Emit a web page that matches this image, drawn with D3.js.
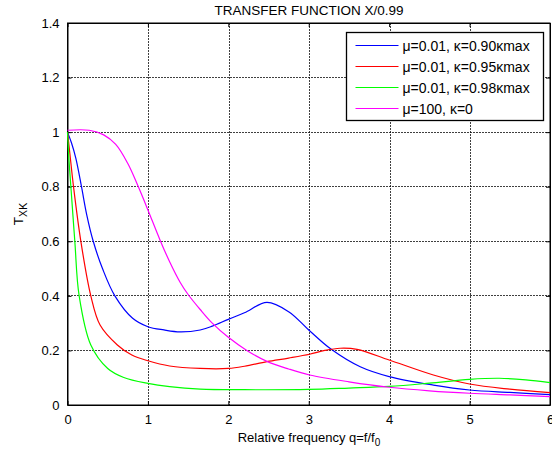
<!DOCTYPE html>
<html>
<head>
<meta charset="utf-8">
<script src="https://cdn.jsdelivr.net/npm/d3@7"></script>
<style>
  body { margin: 0; background: #fff; }
  text { font-family: "Liberation Sans", Arial, sans-serif; fill: #000; }
  .grid line { stroke: #000; stroke-opacity: 0.75; stroke-dasharray: 2,1; shape-rendering: crispEdges; }
</style>
</head>
<body>
<div class="chart"></div>
<script>
// values
var xTicks = [0, 1, 2, 3, 4, 5, 6];
var yTicks = [0, 0.2, 0.4, 0.6, 0.8, 1, 1.2, 1.4];

var seriesNames = ["μ=0.01, κ=0.90κmax", "μ=0.01, κ=0.95κmax", "μ=0.01, κ=0.98κmax", "μ=100, κ=0"];
var seriesColors = ["#0000ff", "#ff0000", "#00ff00", "#ff00ff"];

var qBlue = [0, 0.05, 0.104, 0.174, 0.24, 0.32, 0.435, 0.589, 0.81, 1.0, 1.2, 1.4, 1.65, 1.8, 2.0, 2.2, 2.48, 2.75, 3.0, 3.28, 3.64, 4.0, 4.55, 5.0, 5.5, 6.0];
var tBlue = [1.0, 0.96, 0.904, 0.8, 0.696, 0.6, 0.5, 0.4, 0.318, 0.287, 0.275, 0.268, 0.275, 0.289, 0.314, 0.338, 0.376, 0.342, 0.275, 0.204, 0.14, 0.104, 0.073, 0.055, 0.046, 0.038];

var qRed = [0, 0.03, 0.075, 0.166, 0.29, 0.405, 0.62, 0.8, 1.0, 1.27, 1.65, 2.0, 2.2, 2.48, 2.75, 3.01, 3.2, 3.39, 3.6, 4.0, 4.55, 5.0, 5.5, 6.0];
var tRed = [1.0, 0.92, 0.8, 0.6, 0.4, 0.293, 0.22, 0.183, 0.162, 0.143, 0.134, 0.134, 0.142, 0.159, 0.172, 0.186, 0.2, 0.208, 0.204, 0.165, 0.11, 0.077, 0.058, 0.045];

var qGreen = [0, 0.018, 0.042, 0.091, 0.145, 0.29, 0.5, 0.7, 1.0, 1.27, 1.65, 2.2, 3.0, 3.5, 4.0, 4.5, 5.0, 5.37, 5.7, 6.0];
var tGreen = [1.0, 0.9, 0.8, 0.6, 0.4, 0.22, 0.134, 0.101, 0.079, 0.067, 0.058, 0.056, 0.057, 0.062, 0.068, 0.08, 0.094, 0.098, 0.092, 0.082];

var qMagenta = [0, 0.27, 0.45, 0.6, 0.75, 0.873, 1.0, 1.15, 1.27, 1.4, 1.5, 1.65, 1.8, 2.0, 2.23, 2.48, 2.75, 3.01, 3.5, 4.0, 4.5, 5.0, 5.5, 6.0];
var tMagenta = [1.007, 1.007, 0.99, 0.955, 0.885, 0.805, 0.715, 0.605, 0.525, 0.45, 0.405, 0.35, 0.3, 0.248, 0.2, 0.16, 0.132, 0.11, 0.085, 0.065, 0.052, 0.043, 0.037, 0.031];

var qAll = [qBlue, qRed, qGreen, qMagenta];
var tAll = [tBlue, tRed, tGreen, tMagenta];

var   svg = d3.select(".chart").append("svg").attr("width", 552).attr("height", 454),
      margin  = {top: 23, right: 2, bottom: 49, left: 67.5},
      width   = +svg.attr("width")  - margin.left - margin.right,
      height  = +svg.attr("height") - margin.top  - margin.bottom,
      x       = d3.scaleLinear().domain([0, 6]).range([0, 482.5]),
      y       = d3.scaleLinear().domain([0, 1.4]).range([height, 0]),
      g       = svg.append("g")
                   .attr("transform", `translate(${margin.left},${margin.top})`);

// grid
g.append("g")
    .attr("class", "grid")
    .selectAll("line")
    .data(xTicks.slice(1, -1))
    .enter().append("line")
      .attr("x1", d => Math.round(x(d)) + 0.5).attr("x2", d => Math.round(x(d)) + 0.5)
      .attr("y1", 0).attr("y2", height);

g.append("g")
    .attr("class", "grid")
    .selectAll("line")
    .data(yTicks.slice(1, -1))
    .enter().append("line")
      .attr("y1", d => y(d)).attr("y2", d => y(d))
      .attr("x1", 0).attr("x2", x(6));

// axes, ticks drawn inwards like matlab
g.append("g")
    .attr("transform", `translate(0,${height})`)
    .call(d3.axisBottom(x).tickValues(xTicks).tickFormat(d3.format("d")).tickSizeInner(-4).tickSizeOuter(0).tickPadding(10));
g.append("g")
    .call(d3.axisLeft(y).tickValues(yTicks).tickFormat(d3.format("")).tickSizeInner(-4).tickSizeOuter(0).tickPadding(8));
g.append("g")
    .call(d3.axisTop(x).tickValues(xTicks).tickSizeInner(-4).tickSizeOuter(0).tickFormat(""));
g.append("g")
    .attr("transform", `translate(${x(6)},0)`)
    .call(d3.axisRight(y).tickValues(yTicks).tickSizeInner(-4).tickSizeOuter(0).tickFormat(""));

g.selectAll(".domain").attr("stroke", "#000");
g.selectAll(".tick line").attr("stroke", "#000");
g.selectAll(".tick text").style("font-size", "13px").style("font-family", "Liberation Sans, Arial, sans-serif");

g.append("rect")
    .attr("x", 0).attr("y", 0)
    .attr("width", x(6)).attr("height", height)
    .attr("fill", "none").attr("stroke", "#000");

// curves
var line = d3.line()
    .x(d => x(d[0]))
    .y(d => y(d[1]))
    .curve(d3.curveCatmullRom.alpha(0.5));

for (var i = 0; i < qAll.length; i++) {
  var pts = qAll[i].map((q, j) => [q, tAll[i][j]]);
  g.append("path")
    .datum(pts)
    .attr("fill", "none")
    .attr("stroke", seriesColors[i])
    .attr("stroke-width", 1.2)
    .attr("d", line);
}

// legend
var legend = svg.append("g").attr("transform", "translate(346.5,32.5)");
legend.append("rect")
    .attr("width", 197).attr("height", 88)
    .attr("fill", "#fff").attr("stroke", "#000").attr("stroke-width", 1.3);
seriesNames.forEach((name, i) => {
  var row = legend.append("g").attr("transform", `translate(0,${13 + i * 21})`);
  row.append("line")
    .attr("x1", 9).attr("x2", 52)
    .attr("stroke", seriesColors[i]).attr("stroke-width", 1.2);
  row.append("text")
    .attr("x", 56).attr("y", 5)
    .style("font-size", "14px")
    .text(name);
});

// titles
svg.append("text")
    .attr("x", 309).attr("y", 15)
    .attr("text-anchor", "middle")
    .style("font-size", "13.5px")
    .text("TRANSFER FUNCTION X/0.99");

var xl = svg.append("text")
    .attr("x", 309).attr("y", 442)
    .attr("text-anchor", "middle")
    .style("font-size", "13px");
xl.append("tspan").text("Relative frequency q=f/f");
xl.append("tspan").attr("dy", 4).style("font-size", "10px").text("0");

var yl = svg.append("text")
    .attr("transform", "translate(23,214) rotate(-90)")
    .attr("text-anchor", "middle")
    .style("font-size", "13.5px");
yl.append("tspan").text("T");
yl.append("tspan").attr("dy", 4).style("font-size", "10.5px").text("XK");
</script>
</body>
</html>
